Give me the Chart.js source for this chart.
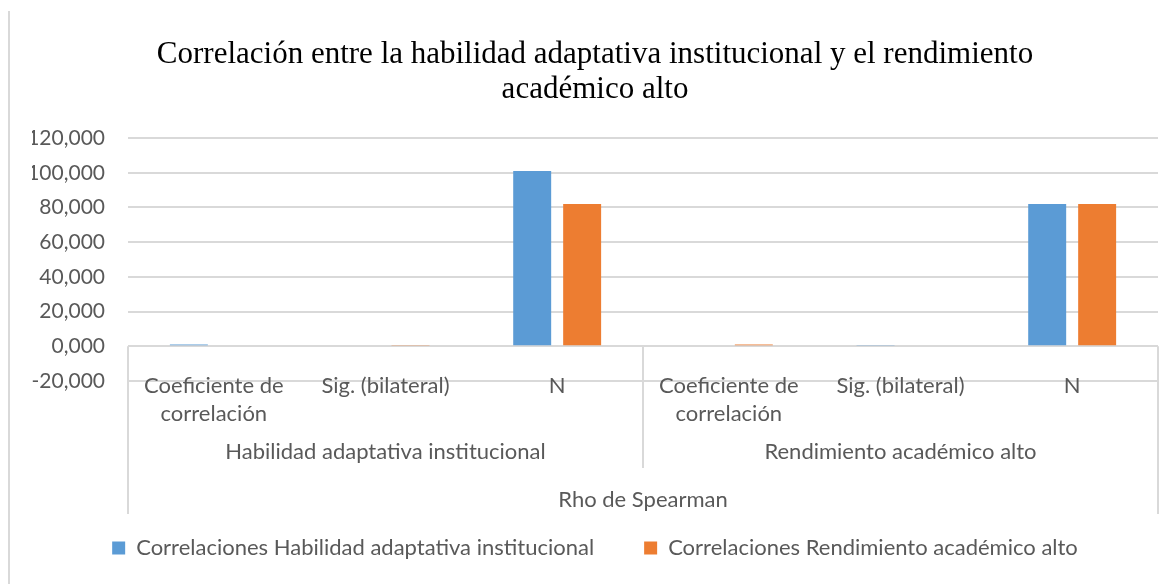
<!DOCTYPE html>
<html>
<head>
<meta charset="utf-8">
<script src="https://cdn.jsdelivr.net/npm/chart.js"></script>
<style>
  body { margin: 0; background: #fff; }
</style>
</head>
<body>
<canvas id="grafico" width="1174" height="584"></canvas>
<script>
const categorias = [
    ['Coeficiente de', 'correlación'], 'Sig. (bilateral)', 'N',
    ['Coeficiente de', 'correlación'], 'Sig. (bilateral)', 'N'
]
const grupos = ['Habilidad adaptativa institucional', 'Rendimiento académico alto']
const grupoSuperior = 'Rho de Spearman'

const habilidad = [1, 0, 101, -0.6, 0.7, 82]
const rendimiento = [-0.6, 0.7, 82, 1, 0, 82]

const yTicks = [-20, 0, 20, 40, 60, 80, 100, 120]

const gris = '#595959'
const linea = '#D9D9D9'

// etiquetas de grupo y separadores debajo del eje, como en Excel
const etiquetasGrupo = {
    id: 'etiquetasGrupo',
    afterDraw(chart) {
        const { ctx, chartArea, scales: { x, y } } = chart
        const y0 = y.getPixelForValue(0)
        const abajo = chartArea.bottom
        const porGrupo = categorias.length / grupos.length

        ctx.save()
        ctx.strokeStyle = linea
        ctx.lineWidth = 2

        // borde izquierdo del gráfico
        ctx.beginPath()
        ctx.moveTo(9, 11)
        ctx.lineTo(9, chart.height)
        ctx.stroke()

        const bordes = [x.left]
        for (let g = 1; g < grupos.length; g++) {
            const a = x.getPixelForValue(g * porGrupo - 1)
            const b = x.getPixelForValue(g * porGrupo)
            bordes.push((a + b) / 2)
        }
        bordes.push(x.right)

        bordes.forEach((bx, i) => {
            const externo = i === 0 || i === bordes.length - 1
            ctx.beginPath()
            ctx.moveTo(bx, y0)
            ctx.lineTo(bx, abajo + (externo ? 133 : 87))
            ctx.stroke()
        })

        ctx.fillStyle = gris
        ctx.font = '22px Lato'
        ctx.textAlign = 'center'
        ctx.textBaseline = 'middle'
        grupos.forEach((g, i) => {
            ctx.fillText(g, (bordes[i] + bordes[i + 1]) / 2, abajo + 71)
        })
        ctx.fillText(grupoSuperior, (x.left + x.right) / 2, abajo + 119)
        ctx.restore()
    }
}

Chart.defaults.font.family = 'Lato'
Chart.defaults.color = gris

new Chart(document.getElementById('grafico'), {
    type: 'bar',
    data: {
        labels: categorias,
        datasets: [
            {
                label: 'Correlaciones Habilidad adaptativa institucional',
                data: habilidad,
                backgroundColor: '#5B9BD5',
                xAxisID: 'x',
                yAxisID: 'y'
            },
            {
                label: 'Correlaciones Rendimiento académico alto',
                data: rendimiento,
                backgroundColor: '#ED7D31',
                xAxisID: 'x',
                yAxisID: 'y'
            }
        ]
    },
    options: {
        responsive: false,
        animation: false,
        categoryPercentage: 0.582,
        barPercentage: 0.76,
        layout: {
            padding: { top: 10, left: 32, right: 16, bottom: 15 }
        },
        plugins: {
            title: {
                display: true,
                text: ['Correlación entre la habilidad adaptativa institucional y el rendimiento', 'académico alto'],
                color: '#000',
                font: { family: '"Liberation Serif"', size: 31, weight: 'normal', lineHeight: 1.13 },
                padding: { top: 27, bottom: 31 }
            },
            legend: {
                position: 'bottom',
                labels: {
                    boxWidth: 13,
                    boxHeight: 13,
                    padding: 50,
                    font: { size: 22 },
                    color: gris
                }
            },
            tooltip: { enabled: false }
        },
        scales: {
            x: {
                type: 'category',
                position: { y: 0 },
                offset: true,
                grid: { display: false },
                border: { display: false },
                ticks: {
                    autoSkip: false,
                    maxRotation: 0,
                    padding: 17,
                    font: { size: 22, lineHeight: 1.3 },
                    color: gris
                }
            },
            hueco: {
                type: 'category',
                axis: 'x',
                position: 'bottom',
                grid: { display: false },
                border: { display: false },
                ticks: { display: false },
                afterFit(scale) { scale.height = 106 }
            },
            y: {
                min: yTicks[0],
                max: yTicks[yTicks.length - 1],
                afterBuildTicks(scale) { scale.ticks = yTicks.map(v => ({ value: v })) },
                afterFit(scale) { scale.width = 96 },
                grid: { color: linea, lineWidth: 2, drawTicks: false },
                border: { display: false },
                ticks: {
                    padding: 23,
                    font: { size: 21 },
                    color: gris,
                    callback: v => v.toFixed(3).replace('.', ',')
                }
            }
        }
    },
    plugins: [etiquetasGrupo]
})
</script>
</body>
</html>
